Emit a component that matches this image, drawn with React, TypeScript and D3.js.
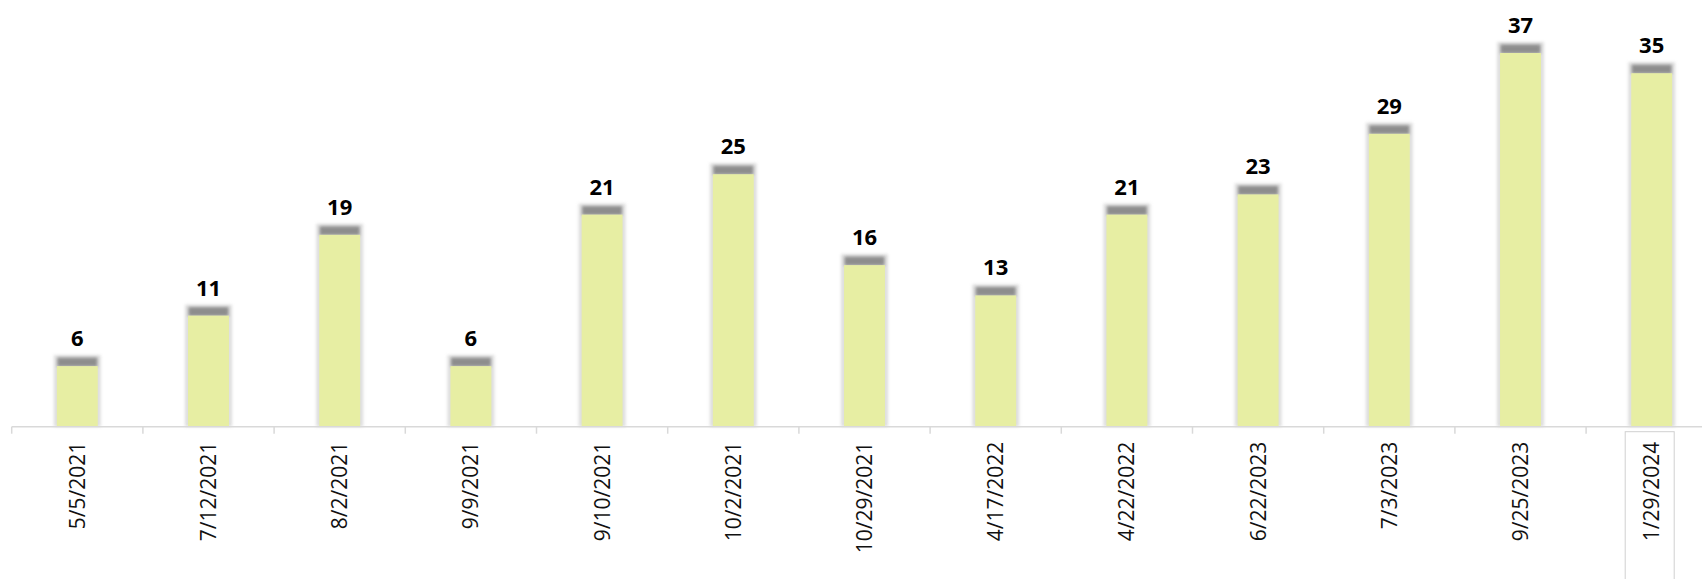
import React from "react";
import * as d3 from "d3";

const categories: string[] = [
  "5/5/2021", "7/12/2021", "8/2/2021", "9/9/2021", "9/10/2021", "10/2/2021",
  "10/29/2021", "4/17/2022", "4/22/2022", "6/22/2023", "7/3/2023", "9/25/2023", "1/29/2024",
];
const values: number[] = [6, 11, 19, 6, 21, 25, 16, 13, 21, 23, 29, 37, 35];
const yDomain: [number, number] = [0, 40];

const W = 1702;
const H = 579;

export default function App() {
  const x = d3.scaleBand<string>().domain(categories).range([11.7, 1717.3]).padding(0);
  const y = d3.scaleLinear().domain(yDomain).range([426.7, 22.7]);
  const step = x.step();
  const barW = step * 0.312;
  const base = y(0);
  const last = categories[categories.length - 1];

  return (
    <svg
      width={W}
      height={H}
      style={{ position: "absolute", left: 0, top: 0, display: "block", background: "#fff" }}
    >
      <defs>
        <filter id="blurHalo" x="-50%" y="-50%" width="200%" height="200%">
          <feGaussianBlur stdDeviation="1.8" />
        </filter>
        <filter id="blurCap" x="-50%" y="-50%" width="200%" height="200%">
          <feGaussianBlur stdDeviation="1.6" />
        </filter>
      </defs>

      {/* bars */}
      {categories.map((c, i) => {
        const cx = (x(c) as number) + step / 2;
        const bx = cx - barW / 2;
        const by = y(values[i]);
        const bh = base - by;
        return (
          <g key={c}>
            <rect
              x={bx - 3}
              y={by - 11}
              width={barW + 6}
              height={bh + 11}
              fill="#c8c8c8"
              opacity={0.6}
              filter="url(#blurHalo)"
            />
            <rect
              x={bx + 0.5}
              y={by - 8.5}
              width={barW - 1}
              height={9}
              fill="#858585"
              opacity={0.9}
              filter="url(#blurCap)"
            />
            <rect x={bx} y={by} width={barW} height={bh} fill="#E7EEA3" />
            <text
              x={cx}
              y={by - 20}
              textAnchor="middle"
              fontFamily="'Open Sans', 'Liberation Sans', sans-serif"
              fontWeight={700}
              fontSize={22}
              fill="#000"
            >
              {values[i]}
            </text>
          </g>
        );
      })}

      {/* axis line */}
      <line x1={x.range()[0]} x2={x.range()[1]} y1={base} y2={base} stroke="#d9d9d9" strokeWidth={1.5} />
      {categories.map((c) => (
        <line
          key={"t" + c}
          x1={x(c) as number}
          x2={x(c) as number}
          y1={base}
          y2={base + 7}
          stroke="#d9d9d9"
          strokeWidth={1.5}
        />
      ))}
      <line x1={x.range()[1]} x2={x.range()[1]} y1={base} y2={base + 7} stroke="#d9d9d9" strokeWidth={1.5} />

      {/* box around last label */}
      <rect
        x={(x(last) as number) + step / 2 - 26.5}
        y={base + 5}
        width={49}
        height={H}
        fill="none"
        stroke="#d0d0d0"
        strokeWidth={1}
      />

      {/* tick labels */}
      {categories.map((c) => {
        const cx = (x(c) as number) + step / 2;
        const ty = base + 15;
        return (
          <text
            key={"l" + c}
            transform={`translate(${cx},${ty}) rotate(-90)`}
            textAnchor="end"
            dy="0.36em"
            fontFamily="'Open Sans', 'Liberation Sans', sans-serif"
            fontSize={21}
            fill="#111"
          >
            {c}
          </text>
        );
      })}
    </svg>
  );
}
